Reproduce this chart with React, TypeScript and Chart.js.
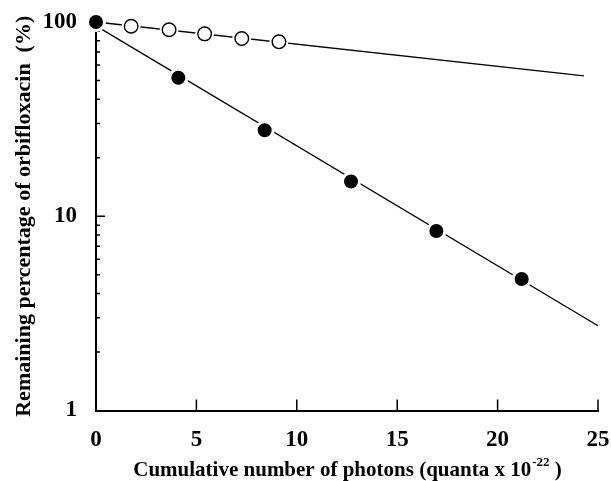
import React, { useEffect, useRef } from "react";
import { Chart, registerables } from "chart.js";

Chart.register(...registerables);

// Filled circles (measured data)
const filledPhotons = [0, 4.1, 8.4, 12.7, 16.95, 21.2];
const filledRemaining = [100, 51.6, 27.7, 15.1, 8.4, 4.75];
// Open circles (measured data)
const openPhotons = [1.75, 3.64, 5.41, 7.26, 9.11];
const openRemaining = [95.1, 91.2, 86.9, 82.2, 79.1];
// Fitted lines
const filledFitPhotons = [0, 25];
const filledFitRemaining = [95.5, 2.73];
const openFitPhotons = [0, 24.3];
const openFitRemaining = [100, 52.8];
// Axes
const xTickValues = [0, 5, 10, 15, 20, 25];
const yLabelValues = [1, 10, 100];
const yMinorValues = [2, 3, 4, 5, 6, 7, 8, 9, 20, 30, 40, 50, 60, 70, 80, 90];

const xTitleMain = "Cumulative number of photons (quanta x 10";
const xTitleSup = "-22";
const xTitleTail = " )";
const yTitle = "Remaining percentage of orbifloxacin  (%)";

const FONT = "'Liberation Serif', 'Times New Roman', serif";

const pts = (xs: number[], ys: number[]) => xs.map((x, i) => ({ x, y: ys[i] }));

const decorPlugin = {
  id: "decor",
  beforeDatasetsDraw(chart: any) {
    const ctx = chart.ctx;
    const xs = chart.scales.x;
    const ys = chart.scales.y;
    const area = chart.chartArea;
    ctx.save();
    ctx.strokeStyle = "#000";
    ctx.lineWidth = 1.5;
    ctx.beginPath();
    for (const v of yMinorValues) {
      const p = ys.getPixelForValue(v);
      ctx.moveTo(area.left, p);
      ctx.lineTo(area.left + 4, p);
    }
    for (const v of [10]) {
      const p = ys.getPixelForValue(v);
      ctx.moveTo(area.left, p);
      ctx.lineTo(area.left + 9, p);
    }
    for (const v of xTickValues.slice(1)) {
      const p = xs.getPixelForValue(v);
      ctx.moveTo(p, area.bottom);
      ctx.lineTo(p, area.bottom - 11);
    }
    ctx.stroke();
    ctx.restore();
  },
  afterDraw(chart: any) {
    const ctx = chart.ctx;
    const area = chart.chartArea;
    const xs = chart.scales.x;
    ctx.save();
    ctx.fillStyle = "#000";
    ctx.textBaseline = "alphabetic";
    ctx.textAlign = "left";
    const big = `bold 21px ${FONT}`;
    const small = `bold 13px ${FONT}`;
    ctx.font = big;
    const w1 = ctx.measureText(xTitleMain).width;
    const w3 = ctx.measureText(xTitleTail).width;
    ctx.font = small;
    const w2 = ctx.measureText(xTitleSup).width;
    const total = w1 + w2 + w3;
    let x = (area.left + area.right) / 2 - total / 2;
    const base = xs.bottom - 5;
    ctx.font = big;
    ctx.fillText(xTitleMain, x, base);
    x += w1;
    ctx.font = small;
    ctx.fillText(xTitleSup, x + 1, base - 10);
    x += w2 + 1;
    ctx.font = big;
    ctx.fillText(xTitleTail, x, base);
    ctx.restore();
  },
};

export default function App() {
  const ref = useRef<HTMLCanvasElement | null>(null);

  useEffect(() => {
    if (!ref.current) return;
    const chart = new Chart(ref.current, {
      type: "scatter",
      data: {
        datasets: [
          {
            label: "filled fit",
            data: pts(filledFitPhotons, filledFitRemaining),
            showLine: true,
            borderColor: "#000",
            borderWidth: 1.3,
            pointRadius: 0,
            order: 5,
            clip: false,
          } as any,
          {
            label: "open fit",
            data: pts(openFitPhotons, openFitRemaining),
            showLine: true,
            borderColor: "#000",
            borderWidth: 1.3,
            pointRadius: 0,
            order: 5,
            clip: false,
          },
          {
            label: "open mask",
            data: pts(openPhotons, openRemaining),
            showLine: false,
            pointRadius: 9.5,
            pointBackgroundColor: "#fff",
            pointBorderWidth: 0,
            pointBorderColor: "#fff",
            order: 3,
            clip: false,
          },
          {
            label: "open",
            data: pts(openPhotons, openRemaining),
            showLine: false,
            pointRadius: 6.8,
            pointBackgroundColor: "#fff",
            pointBorderColor: "#000",
            pointBorderWidth: 1.4,
            order: 2,
            clip: false,
          },
          {
            label: "filled",
            data: pts(filledPhotons, filledRemaining),
            showLine: false,
            pointRadius: 8.5,
            pointBackgroundColor: "#000",
            pointBorderColor: "#fff",
            pointBorderWidth: 3,
            order: 1,
            clip: false,
          },
        ],
      },
      options: {
        responsive: false,
        animation: false,
        devicePixelRatio: 1,
        layout: { padding: { top: 22, right: 13, left: 0, bottom: 0 } },
        plugins: { legend: { display: false }, tooltip: { enabled: false } },
        scales: {
          x: {
            type: "linear",
            min: 0,
            max: 25,
            afterFit: (s: any) => {
              s.height = 70.5;
              s.paddingLeft = 0;
              s.paddingRight = 0;
            },
            afterBuildTicks: (s: any) => {
              s.ticks = xTickValues.map((v) => ({ value: v }));
            },
            ticks: {
              color: "#000",
              font: { family: FONT, size: 23, weight: "bold" },
              padding: 16,
              maxRotation: 0,
              autoSkip: false,
            },
            grid: { display: false, drawTicks: false },
            border: { display: true, color: "#000", width: 2 },
          },
          y: {
            type: "logarithmic",
            min: 1,
            max: 100,
            afterFit: (s: any) => {
              s.width = 96;
              s.paddingTop = 0;
              s.paddingBottom = 0;
            },
            afterBuildTicks: (s: any) => {
              s.ticks = yLabelValues.map((v) => ({ value: v }));
            },
            ticks: {
              color: "#000",
              font: { family: FONT, size: 23, weight: "bold" },
              padding: 19,
              autoSkip: false,
              callback: (v: any) => String(v),
            },
            grid: { display: false, drawTicks: false },
            border: { display: true, color: "#000", width: 2 },
            title: {
              display: true,
              text: yTitle,
              color: "#000",
              font: { family: FONT, size: 22, weight: "bold" },
              padding: { top: 11, bottom: 0 },
            },
          },
        },
      } as any,
      plugins: [decorPlugin],
    });
    return () => chart.destroy();
  }, []);

  return (
    <div style={{ position: "absolute", left: 0, top: 0, width: 611, height: 481, background: "#fff" }}>
      <canvas ref={ref} width={611} height={481} style={{ display: "block" }} />
    </div>
  );
}
